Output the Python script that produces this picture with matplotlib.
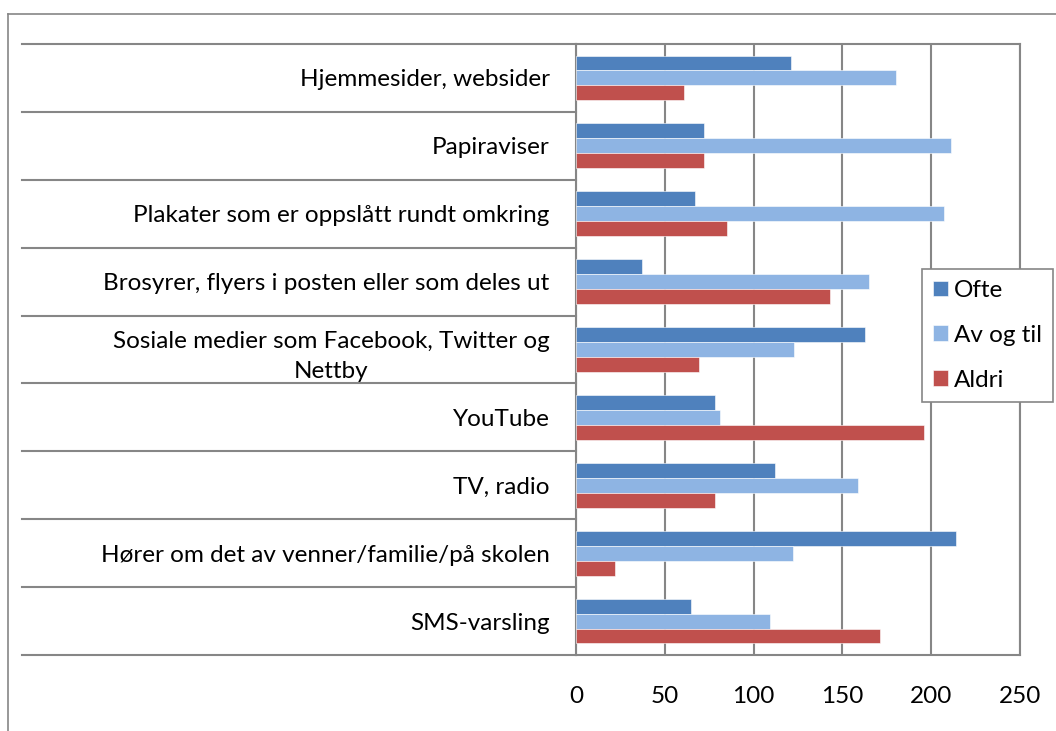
import numpy as np
import matplotlib
matplotlib.use('Agg')
import matplotlib.pyplot as plt
import matplotlib.transforms as mtransforms
from matplotlib.lines import Line2D

categories = ['Hjemmesider, websider', 'Papiraviser', 'Plakater som er oppslått rundt omkring',
              'Brosyrer, flyers i posten eller som deles ut',
              'Sosiale medier som Facebook, Twitter og\nNettby',
              'YouTube', 'TV, radio', 'Hører om det av venner/familie/på skolen', 'SMS-varsling']
ofte = [121, 72, 67, 37, 163, 78, 112, 214, 65]
av_og_til = [180, 211, 207, 165, 123, 81, 159, 122, 109]
aldri = [61, 72, 85, 143, 69, 196, 78, 22, 171]
series_names = ['Ofte', 'Av og til', 'Aldri']
colors = ['#4F81BD', '#8EB4E3', '#C0504D']
xticks = [0, 50, 100, 150, 200, 250]

plt.rcParams['font.family'] = ['Lato', 'DejaVu Sans']
gray = '#868686'
fs = 17.5

fig = plt.figure(figsize=(10.56, 7.31), dpi=100)
ax = fig.add_axes([576/1056, 1-655/731, (1020-576)/1056, (655-44)/731])

n = len(categories)
y = np.arange(n)
h = 0.22
for i, (vals, name, c) in enumerate(zip([ofte, av_og_til, aldri], series_names, colors)):
    ax.barh(y + (i-1)*h, vals, height=h, color=c, label=name, zorder=3,
            edgecolor='white', linewidth=0.4)

ax.set_xlim(0, 250)
ax.set_ylim(n-0.5, -0.5)
ax.set_xticks(xticks)
ax.set_xticklabels([str(t) for t in xticks], fontsize=fs)
ax.tick_params(axis='x', length=0, pad=22)
ax.set_yticks(y)
ax.set_yticklabels(categories, fontsize=fs, multialignment='center', linespacing=1.55)
ax.tick_params(axis='y', length=0, pad=19)
ax.grid(axis='x', color=gray, lw=1.5, zorder=0)
for s in ax.spines.values():
    s.set_color(gray)
    s.set_linewidth(1.5)

# category separators extending to the left
trans = mtransforms.blended_transform_factory(fig.transFigure, ax.transData)
for b in np.arange(n+1) - 0.5:
    ax.add_line(Line2D([22/1056, 576/1056], [b, b], transform=trans, color=gray,
                       lw=1.5, clip_on=False))

# outer chart border (cropped)
fig.add_artist(Line2D([8/1056, 1], [1-14/731, 1-14/731], color=gray, lw=1.2))
fig.add_artist(Line2D([8/1056, 8/1056], [0, 1-14/731], color=gray, lw=1.2))

leg = fig.legend(loc='upper left', bbox_to_anchor=(922/1056, 1-269/731), fontsize=fs,
                 frameon=True, fancybox=False, framealpha=1, edgecolor=gray,
                 handlelength=0.6, handleheight=0.6, labelspacing=0.98,
                 borderpad=0.45, handletextpad=0.25, borderaxespad=0)
leg.get_frame().set_linewidth(1.2)

fig.savefig('out.png', dpi=100)
